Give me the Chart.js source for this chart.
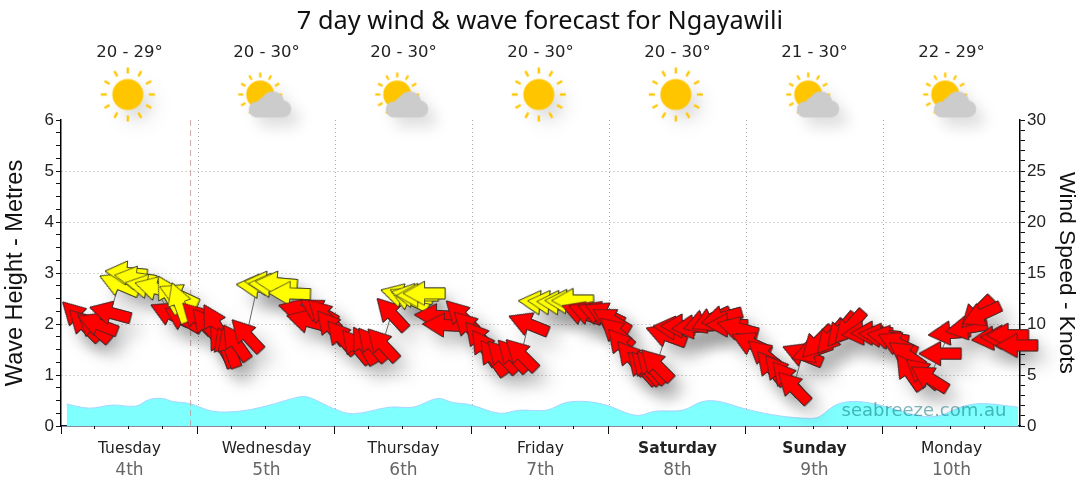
<!DOCTYPE html>
<html><head><meta charset="utf-8">
<style>html,body{margin:0;padding:0;background:#fff}canvas{display:block}</style>
<script src="https://cdn.jsdelivr.net/npm/chart.js@4"></script>
</head><body><div style="width:1080px;height:490px"><canvas id="c" width="1080" height="490"></canvas></div>
<script>
const chartTitle = '7 day wind & wave forecast for Ngayawili';
const dayNames = ['Tuesday','Wednesday','Thursday','Friday','Saturday','Sunday','Monday'];
const dayDates = ['4th','5th','6th','7th','8th','9th','10th'];
const tempRanges = ['20 - 29°','20 - 30°','20 - 30°','20 - 30°','20 - 30°','21 - 30°','22 - 29°'];
const skyKinds = ['sun','cloud','cloud','sun','sun','cloud','cloud'];
const skyHours = [11.7,35.7,59.7,83.7,107.7,131.7,155.7];
const skyLevel = [6.5,6.5,6.5,6.5,6.5,6.5,6.5];
const nowHour = [22.7,22.7];
const nowLevel = [0,6];
const waveHours = [1,4.95,9,13.1,15.5,17.8,19.6,22.5,26.6,31.2,35.9,41.7,43.5,47.6,51.1,57.6,61.7,66,68.7,71.6,76.8,80.3,85,88.5,92,95.5,100.7,104.2,108.9,112.4,115.3,120,125.8,131,132.8,135.7,138.6,142.7,150.3,153.8,157.9,161.4,167.7];
const waveMetres = [.43,.35,.41,.39,.52,.54,.48,.44,.29,.29,.39,.57,.56,.35,.24,.37,.37,.54,.46,.42,.25,.31,.31,.46,.48,.41,.21,.29,.31,.48,.48,.33,.2,.15,.18,.41,.48,.43,.2,.2,.38,.44,.37];
const windHours = [2.9,4.1,5.7,6.4,8.6,10.2,11.4,13,14.9,16.5,19.1,21.4,18.9,20.6,20.7,23.9,25.5,26.9,28.1,28.8,29.5,30.6,32.5,34.4,35.8,36.5,37.7,40,41.7,43.1,45.1,46,47.3,49.1,51.7,53.1,54.5,56.3,57.9,59.6,61,61.5,62.4,63.6,65.6,67,70.1,71.5,73.3,74.2,75.7,77.3,79.1,80.6,81.9,83.8,85.4,87,88.4,89.6,91.2,92.4,94,95.2,96.4,97.3,98.3,99.9,101.8,102.5,103.4,104.3,106,107.4,108.7,110.6,112.5,113.9,115.7,116.6,118.5,120.9,123.2,124.4,125.8,127.1,128.3,129.9,131.5,132.5,134.9,136.7,138.1,140.4,142,143.4,144.8,146.5,148.1,148.6,150.9,152.1,154,155.6,158.6,160.4,161.2,163.2,164.7,165.8,167.4];
const windKnots = [10.7,9.9,9.7,10,11.1,13.9,15,14.5,13.7,13.5,11,10.5,12.9,12.8,12.1,10.6,9.9,10.1,8,7.7,7.7,8.2,8.9,13.7,14,13.8,14,13,11.3,10.3,11.3,10.9,9.7,8.7,7.8,7.9,8,8,11,12.8,12.5,12.8,12.8,13,10.8,9.9,10.8,9.7,8.6,7.7,6.7,6.8,6.9,7,10,12.1,12.1,12.1,12.2,12.3,11.1,11.1,11.1,11,10.4,9.2,7.9,6.7,5.7,5.7,5.8,6,8.9,9.6,9.8,9.7,10.2,10.4,10.6,9.9,9.6,8.1,7,5.7,5.3,4.7,3.8,7,7.3,8.2,8.7,9.4,9.7,9.1,9.1,8.9,8.7,8.1,7,5.3,5.2,4.7,7.1,9.1,9.6,11.1,10.9,8.6,8.7,8.9,7.9];
const windDir = [45,45,41,21,15,23,5,8,10,15,25,30,60,25,70,45,50,60,60,70,70,55,47,5,5,5,5,2,15,15,30,45,50,50,50,60,50,47,47,15,25,10,0,0,3,3,45,45,50,55,55,47,47,45,22,5,5,3,3,0,20,20,20,25,30,42,50,50,48,48,48,45,20,5,0,-5,-20,-25,-15,0,15,25,40,50,50,50,45,22,-20,-45,-50,-50,-48,-5,0,5,10,25,35,55,40,32,0,-5,-10,-45,-25,-5,0,0,0];
const windBand = ['R','R','R','R','R','Y','Y','Y','Y','Y','R','R','Y','Y','Y','R','R','R','R','R','R','R','R','Y','Y','Y','Y','Y','R','R','R','R','R','R','R','R','R','R','R','Y','Y','Y','Y','Y','R','R','R','R','R','R','R','R','R','R','R','Y','Y','Y','Y','Y','R','R','R','R','R','R','R','R','R','R','R','R','R','R','R','R','R','R','R','R','R','R','R','R','R','R','R','R','R','R','R','R','R','R','R','R','R','R','R','R','R','R','R','R','R','R','R','R','R','R','R'];

function sprite(size, paint){
  const cv=document.createElement('canvas');cv.width=cv.height=size;
  const g=cv.getContext('2d');g.translate(size/2,size/2);paint(g);return cv;
}
function arrowSprite(fill){
  return sprite(54,g=>{
    g.beginPath();
    [[-21,0],[0.5,-12],[0.5,-5.5],[21,-5.5],[21,5.5],[0.5,5.5],[0.5,12]].forEach((p,i)=>i?g.lineTo(p[0],p[1]):g.moveTo(p[0],p[1]));
    g.closePath();g.fillStyle=fill;g.fill();g.strokeStyle='#2a2a2a';g.lineWidth=.75;g.stroke();
  });
}
function rays(g,cx,cy,r0,r1,w){
  g.strokeStyle='#FFC600';g.lineWidth=w;
  for(let i=0;i<12;i++){const a=i*Math.PI/6;g.beginPath();g.moveTo(cx+Math.cos(a)*r0,cy+Math.sin(a)*r0);g.lineTo(cx+Math.cos(a)*r1,cy+Math.sin(a)*r1);g.stroke();}
}
const sunSprite=sprite(70,g=>{
  rays(g,0,0,21,27,2.4);
  g.fillStyle='#FFC600';g.beginPath();g.arc(0,0,15.5,0,7);g.fill();
});
const cloudSprite=sprite(70,g=>{
  rays(g,-4.6,0,17,22,2.2);
  g.fillStyle='#FFC600';g.beginPath();g.arc(-4.6,0,14,0,7);g.fill();
  g.fillStyle='#CCCCCC';g.beginPath();
  g.arc(-8,15,8,0,7);g.arc(1,11,9,0,7);g.arc(8,8.5,11.5,0,7);g.arc(18,14.5,8.5,0,7);g.rect(-8,14,26,9);g.fill();
});
const redArrow=arrowSprite('#FF0000'), yellowArrow=arrowSprite('#FFFF00');

const windPoints=windHours.map((x,i)=>({x,y:windKnots[i]}));
const arrowStyles=windBand.map(b=>b==='Y'?yellowArrow:redArrow);
const dayIndex=v=>(v%24===12)?(v-12)/24:-1;
const ink='#222';

const shadowPlugin={id:'softShadow',
  beforeDatasetDraw(chart,args){const s=chart.data.datasets[args.index].softShadow;if(!s)return;
    const c=chart.ctx;c.save();c.shadowColor=s.color;c.shadowBlur=s.blur;c.shadowOffsetX=s.dx;c.shadowOffsetY=s.dy;},
  afterDatasetDraw(chart,args){if(chart.data.datasets[args.index].softShadow)chart.ctx.restore();}
};
const dressingPlugin={id:'dressing',
  afterDatasetsDraw(chart){
    const c=chart.ctx,a=chart.chartArea;
    c.save();c.font='18px "DejaVu Sans"';c.fillStyle='rgba(0,110,115,0.5)';c.textAlign='center';c.textBaseline='middle';
    c.fillText('seabreeze.com.au',a.right-96,a.bottom-15);c.restore();
  },
  afterDraw(chart){
    const c=chart.ctx,sx=chart.scales.x,a=chart.chartArea;
    c.save();c.strokeStyle='#111';c.lineWidth=1;
    for(let v=0;v<168;v+=6){
      const major=v%24===0,px=Math.round(sx.getPixelForValue(v)-(v?1.5:0))+0.5;
      c.beginPath();c.moveTo(px,a.bottom);c.lineTo(px,a.bottom+(major?8:3));c.stroke();
    }
    c.restore();
  }
};

new Chart(document.getElementById('c'),{
  type:'line',
  plugins:[shadowPlugin,dressingPlugin],
  data:{datasets:[
    {label:'Wave',order:5,data:waveHours.map((x,i)=>({x,y:waveMetres[i]})),yAxisID:'yM',xAxisID:'x',
      fill:'origin',backgroundColor:'#80FFFF',borderColor:'#A8D4FF',borderWidth:1,tension:.35,pointRadius:0,pointHoverRadius:0},
    {label:'Now',order:4,data:nowHour.map((x,i)=>({x,y:nowLevel[i]})),yAxisID:'yM',xAxisID:'x',
      borderColor:'rgba(190,150,150,.8)',borderWidth:1,borderDash:[6,4],pointRadius:0,pointHoverRadius:0,fill:false},
    {label:'Sky',order:3,data:skyHours.map((x,i)=>({x,y:skyLevel[i]})),yAxisID:'yM',xAxisID:'x',showLine:false,clip:false,
      pointStyle:skyKinds.map(k=>k==='sun'?sunSprite:cloudSprite),pointRadius:60,pointHoverRadius:60,pointBorderWidth:0,
      softShadow:{color:'rgba(0,0,0,.12)',blur:14,dx:9,dy:10}},
    {label:'Wind shadow',order:2,data:windPoints,yAxisID:'yK',xAxisID:'x',showLine:false,clip:false,
      pointStyle:arrowStyles,rotation:windDir,pointRadius:40,pointHoverRadius:40,pointBorderWidth:0,
      softShadow:{color:'rgba(0,0,0,.2)',blur:18,dx:10,dy:12}},
    {label:'Wind',order:1,data:windPoints,yAxisID:'yK',xAxisID:'x',clip:false,
      borderColor:'#666',borderWidth:1,tension:0,fill:false,
      pointStyle:arrowStyles,rotation:windDir,pointRadius:40,pointHoverRadius:40,pointBorderWidth:0}
  ]},
  options:{
    responsive:false,animation:false,events:[],devicePixelRatio:1,
    layout:{padding:0},
    plugins:{
      legend:{display:false},tooltip:{enabled:false},
      title:{display:true,text:chartTitle,color:'#111',font:{family:'"Noto Sans"',size:25.3,weight:'normal'},padding:{top:7,bottom:0}}
    },
    scales:{
      x:{type:'linear',position:'bottom',weight:0,min:0,max:168,
        afterFit(s){s.height=32;},
        border:{color:'#0a1a40',width:1.5,dash:[1,3]},
        grid:{drawTicks:false,color:c=>(c.tick&&c.tick.value%24===0&&c.tick.value>0&&c.tick.value<168)?'#aaa':'transparent',lineWidth:1},
        ticks:{stepSize:6,autoSkip:false,maxRotation:0,padding:14,includeBounds:false,color:ink,
          font:c=>{const d=c.tick?dayIndex(c.tick.value):-1;return {family:'"DejaVu Sans"',size:15.5,weight:(d===4||d===5)?'bold':'normal'};},
          callback:v=>{const d=dayIndex(v);return d>=0?dayNames[d]:'';}}
      },
      xDate:{type:'linear',position:'bottom',weight:1,min:0,max:168,
        afterFit(s){s.height=32;},
        border:{display:false},grid:{display:false,drawTicks:false},
        ticks:{stepSize:6,autoSkip:false,maxRotation:0,padding:2,includeBounds:false,color:'#666',
          font:{family:'"DejaVu Sans"',size:17},
          callback:v=>{const d=dayIndex(v);return d>=0?dayDates[d]:'';}}
      },
      xTemp:{type:'linear',position:'top',min:0,max:168,
        afterFit(s){s.height=120-s.chart.titleBlock.height;},
        border:{display:false},grid:{display:false,drawTicks:false},
        ticks:{stepSize:6,autoSkip:false,maxRotation:0,padding:57,includeBounds:false,color:ink,
          font:{family:'"DejaVu Sans"',size:16.5},
          callback:v=>{const d=dayIndex(v);return d>=0?tempRanges[d]:'';}}
      },
      yM:{type:'linear',position:'left',min:0,max:6,
        afterFit(s){s.width=61;},
        border:{color:'#000',width:1.5,dash:[1,3]},
        grid:{tickLength:5,tickColor:'#111',tickBorderDash:[],color:c=>(c.tick&&Number.isInteger(c.tick.value)&&c.tick.value>0&&c.tick.value<6)?'#aaa':'transparent'},
        ticks:{stepSize:.25,autoSkip:false,padding:2,color:ink,font:{family:'"Liberation Sans"',size:17},
          callback:v=>Number.isInteger(v)?String(v):''},
        title:{display:true,text:'Wave Height - Metres',color:'#111',font:{family:'"Liberation Sans"',size:23.5,weight:'normal'},padding:{top:1,bottom:0}}
      },
      yK:{type:'linear',position:'right',min:0,max:30,
        afterFit(s){s.width=60;},
        border:{color:'#000',width:1.5},
        grid:{drawOnChartArea:false,tickLength:5,tickColor:'#111'},
        ticks:{stepSize:1,autoSkip:false,padding:2,color:ink,font:{family:'"Liberation Sans"',size:17},
          callback:v=>v%5===0?String(v):''},
        title:{display:true,text:'Wind Speed - Knots',color:'#111',font:{family:'"Liberation Sans"',size:22.7,weight:'normal'},padding:0}
      }
    }
  }
});
</script></body></html>
